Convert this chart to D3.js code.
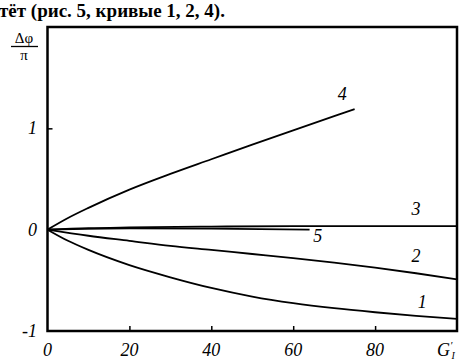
<!DOCTYPE html>
<html>
<head>
<meta charset="utf-8">
<script src="https://cdn.jsdelivr.net/npm/d3@7"></script>
<style>
body{margin:0;background:#fff;}
svg{display:block;}
svg text{font-family:"Liberation Serif","Times New Roman",Times,Tinos,"Nimbus Roman","Noto Serif","DejaVu Serif",serif;}
</style>
</head>
<body>
<svg id="chart"></svg>
<script>
var size = {width: 459, height: 360};
var margin = {top: 27, right: 2, bottom: 29, left: 47.5};

// x = G'_I, y = delta phi / pi
var xTicks = [0, 20, 40, 60, 80];
var yTicks = [-1, 0, 1];

var curve1 = [[0,0],[5,-0.11],[10,-0.20],[20,-0.35],[30,-0.47],[40,-0.575],[50,-0.66],[60,-0.725],[70,-0.775],[80,-0.815],[90,-0.85],[100,-0.88]];
var curve2 = [[0,0],[10,-0.06],[20,-0.11],[30,-0.16],[40,-0.20],[50,-0.24],[60,-0.28],[70,-0.325],[80,-0.375],[90,-0.43],[100,-0.49]];
var curve3 = [[0,0],[10,0.015],[20,0.022],[40,0.03],[60,0.035],[80,0.035],[100,0.035]];
var curve4 = [[0,0],[5,0.115],[10,0.215],[20,0.395],[30,0.55],[40,0.695],[50,0.84],[60,0.98],[70,1.12],[75,1.19]];
var curve5 = [[0,0],[20,0.012],[40,0.01],[64,0.0]];

var curveLabels = [
  {text: "4", x: 72, y: 1.28},
  {text: "3", x: 90, y: 0.14},
  {text: "5", x: 66, y: -0.12},
  {text: "2", x: 90, y: -0.32},
  {text: "1", x: 91.5, y: -0.77}
];

var svg = d3.select("#chart")
  .attr("width", size.width)
  .attr("height", size.height);

var x = d3.scaleLinear().domain([0, 100]).range([margin.left, size.width - margin.right]);
var y = d3.scaleLinear().domain([-1, 2]).range([size.height - margin.bottom, margin.top]);

// header text cut from the page
svg.append("text")
  .attr("x", -1).attr("y", 17)
  .attr("font-size", 19)
  .attr("font-weight", "bold")
  .text("тёт (рис. 5, кривые 1, 2, 4).");

// y axis title as a fraction
svg.append("text")
  .attr("x", 24).attr("y", 43)
  .attr("text-anchor", "middle")
  .attr("font-size", 15)
  .text("Δφ");
svg.append("line")
  .attr("x1", 11).attr("x2", 38)
  .attr("y1", 46.5).attr("y2", 46.5)
  .attr("stroke", "#000").attr("stroke-width", 1.3);
svg.append("text")
  .attr("x", 24).attr("y", 60)
  .attr("text-anchor", "middle")
  .attr("font-size", 15)
  .text("π");

// frame
svg.append("rect")
  .attr("x", x(0)).attr("y", y(2))
  .attr("width", x(100) - x(0))
  .attr("height", y(-1) - y(2))
  .attr("fill", "none")
  .attr("stroke", "#000")
  .attr("stroke-width", 2.5);

// axes with inward ticks
svg.append("g")
  .attr("transform", "translate(0," + y(-1) + ")")
  .call(d3.axisBottom(x).tickValues(xTicks.slice(1)).tickSize(-5).tickFormat(""))
  .call(function(g){ g.select(".domain").remove(); })
  .selectAll("line").attr("stroke-width", 1.5);

svg.append("g")
  .attr("transform", "translate(" + x(0) + ",0)")
  .call(d3.axisLeft(y).tickValues([1]).tickSize(-5).tickFormat(""))
  .call(function(g){ g.select(".domain").remove(); })
  .selectAll("line").attr("stroke-width", 1.5);

// tick labels
svg.selectAll(".xlab")
  .data(xTicks)
  .enter().append("text")
    .attr("class", "xlab")
    .attr("x", function(d){ return x(d); })
    .attr("y", 356)
    .attr("text-anchor", "middle")
    .attr("font-size", 18)
    .attr("font-style", "italic")
    .text(function(d){ return d; });

svg.selectAll(".ylab")
  .data(yTicks)
  .enter().append("text")
    .attr("class", "ylab")
    .attr("x", 37)
    .attr("y", function(d){ return y(d) + 6; })
    .attr("text-anchor", "end")
    .attr("font-size", 18)
    .attr("font-style", "italic")
    .text(function(d){ return d < 0 ? "-" + Math.abs(d) : d; });

// G'_I
var gl = svg.append("text")
  .attr("x", 437).attr("y", 356)
  .attr("font-size", 18)
  .attr("font-style", "italic");
gl.append("tspan").text("G");
gl.append("tspan").attr("dy", -7).attr("font-size", 11).text("′");
gl.append("tspan").attr("dx", -1).attr("dy", 10).attr("font-size", 10).text("I");

// curves
var line = d3.line()
  .x(function(d){ return x(d[0]); })
  .y(function(d){ return y(d[1]); })
  .curve(d3.curveMonotoneX);

[curve1, curve2, curve3, curve4, curve5].forEach(function(c){
  svg.append("path")
    .datum(c)
    .attr("d", line)
    .attr("fill", "none")
    .attr("stroke", "#000")
    .attr("stroke-width", 1.8);
});

svg.selectAll(".clab")
  .data(curveLabels)
  .enter().append("text")
    .attr("class", "clab")
    .attr("x", function(d){ return x(d.x); })
    .attr("y", function(d){ return y(d.y); })
    .attr("text-anchor", "middle")
    .attr("font-size", 18)
    .attr("font-style", "italic")
    .text(function(d){ return d.text; });
</script>
</body>
</html>
